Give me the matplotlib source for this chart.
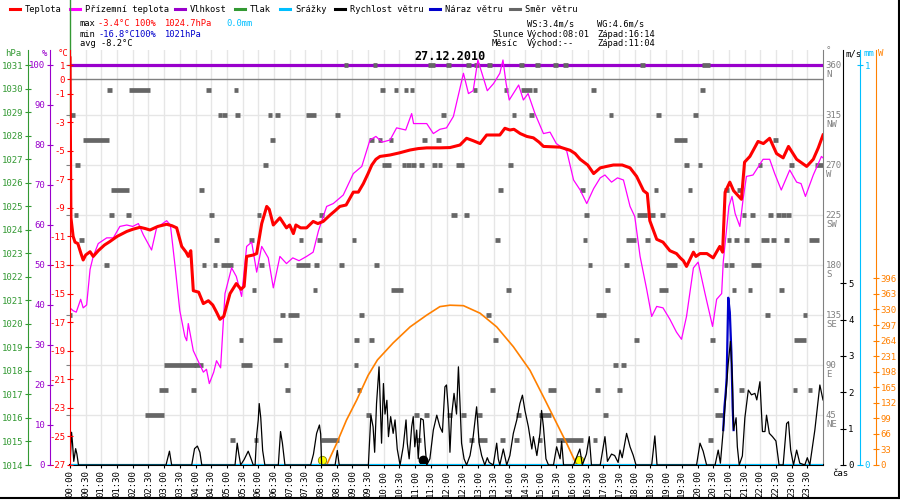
import numpy as np
import matplotlib.pyplot as plt
from matplotlib.lines import Line2D

plt.rcParams['font.family'] = ['DejaVu Sans Mono', 'DejaVu Sans']
plt.rcParams['axes.unicode_minus'] = False

# time in hours of the day
temp_pts = [(0, 1.5), (0.01, -2.8), (0.03, -9.7), (0.1, -11.0), (0.16, -11.4), (0.25, -11.5),
            (0.35, -12.2), (0.42, -12.65), (0.5, -12.3), (0.64, -12.07), (0.74, -12.4), (0.9, -12.0),
            (1.1, -11.6), (1.27, -11.36), (1.5, -11.0), (1.81, -10.65), (2.0, -10.5), (2.23, -10.36),
            (2.4, -10.45), (2.55, -10.55), (2.8, -10.3), (3.08, -10.15), (3.25, -10.25), (3.4, -10.4),
            (3.56, -11.7), (3.7, -12.1), (3.77, -12.4), (3.85, -12.0), (3.93, -14.8), (4.1, -14.9),
            (4.25, -15.7), (4.41, -15.5), (4.55, -15.8), (4.67, -16.3), (4.78, -16.8), (4.9, -16.6),
            (5.1, -15.0), (5.3, -14.3), (5.45, -14.7), (5.55, -14.5), (5.63, -12.4), (5.84, -12.3),
            (5.95, -12.2), (6.11, -10.1), (6.27, -8.9), (6.35, -9.1), (6.48, -10.2), (6.69, -9.7),
            (6.9, -10.4), (7.0, -10.2), (7.12, -10.8), (7.2, -10.2), (7.35, -10.4), (7.54, -10.4),
            (7.75, -9.95), (7.9, -10.1), (8.07, -9.95), (8.29, -9.5), (8.45, -9.2), (8.6, -8.9),
            (8.8, -8.8), (9.03, -7.9), (9.19, -7.9), (9.35, -7.3), (9.5, -6.6), (9.62, -6.0),
            (9.75, -5.6), (9.88, -5.4), (10.2, -5.3), (10.5, -5.15), (10.84, -4.95), (11.1, -4.85),
            (11.37, -4.8), (11.79, -4.8), (12.11, -4.78), (12.43, -4.6), (12.64, -4.13), (12.85, -4.3),
            (13.07, -4.5), (13.28, -3.9), (13.7, -3.9), (13.86, -3.43), (14.02, -3.55), (14.15, -3.5),
            (14.35, -3.8), (14.56, -4.0), (14.77, -4.1), (14.95, -4.4), (15.09, -4.7), (15.62, -4.75),
            (15.94, -4.97), (16.1, -5.2), (16.26, -5.6), (16.5, -6.0), (16.69, -6.6), (16.9, -6.2),
            (17.1, -6.1), (17.32, -6.0), (17.6, -6.0), (17.85, -6.2), (18.06, -6.8), (18.28, -7.8),
            (18.4, -8.0), (18.48, -9.9), (18.7, -11.2), (18.9, -11.4), (19.12, -12.0), (19.33, -12.2),
            (19.45, -12.5), (19.55, -12.7), (19.65, -13.1), (19.87, -12.1), (19.95, -12.4), (20.08, -12.2),
            (20.3, -12.2), (20.5, -12.5), (20.71, -11.7), (20.8, -12.1), (20.88, -7.9), (21.03, -7.2),
            (21.15, -7.8), (21.4, -8.4), (21.5, -5.8), (21.67, -5.4), (21.93, -4.35), (22.1, -4.5),
            (22.3, -4.13), (22.52, -5.2), (22.73, -5.5), (22.9, -4.7), (23.16, -5.6), (23.48, -6.1),
            (23.69, -5.6), (23.85, -4.8), (24.0, -3.9)]

ground_pts = [(0, -16.0), (0.1, -16.2), (0.2, -16.3), (0.34, -15.4), (0.42, -16.0), (0.53, -15.8),
              (0.64, -13.3), (0.74, -12.4), (0.9, -11.5), (1.17, -11.1), (1.38, -11.1), (1.59, -10.3),
              (1.81, -10.2), (2.0, -10.3), (2.18, -10.1), (2.34, -10.9), (2.6, -11.95), (2.76, -10.4),
              (3.08, -9.9), (3.2, -10.2), (3.35, -13.1), (3.5, -16.2), (3.66, -18.0), (3.72, -18.3),
              (3.77, -17.1), (3.93, -19.0), (4.1, -19.8), (4.25, -20.5), (4.35, -20.3), (4.44, -21.3),
              (4.58, -20.5), (4.67, -19.7), (4.8, -20.2), (4.94, -15.0), (5.15, -13.2), (5.3, -13.8),
              (5.47, -15.2), (5.63, -11.7), (5.79, -11.4), (5.95, -13.5), (6.11, -11.7), (6.32, -12.5),
              (6.48, -14.6), (6.69, -12.4), (6.9, -12.9), (7.1, -12.5), (7.3, -12.7), (7.54, -12.4),
              (7.75, -12.1), (7.92, -10.6), (8.18, -8.9), (8.39, -8.7), (8.71, -8.1), (9.03, -6.6),
              (9.3, -6.1), (9.56, -4.25), (9.75, -4.0), (9.95, -4.4), (10.2, -4.25), (10.41, -3.4),
              (10.7, -3.55), (10.89, -2.4), (10.95, -3.1), (11.37, -3.1), (11.58, -3.8), (11.79, -3.5),
              (12.0, -3.4), (12.22, -2.6), (12.54, 0.42), (12.7, -1.0), (12.85, -0.8), (13.0, 1.35),
              (13.3, -0.8), (13.5, -0.3), (13.7, 0.42), (13.8, 1.35), (13.9, -0.3), (14.0, -1.45),
              (14.3, -0.4), (14.45, -1.45), (14.6, -1.0), (14.82, -2.4), (15.09, -3.8), (15.3, -3.7),
              (15.5, -4.5), (15.83, -5.0), (16.05, -7.05), (16.26, -7.75), (16.47, -8.7), (16.69, -7.65),
              (16.9, -6.9), (17.05, -6.7), (17.26, -7.2), (17.45, -6.9), (17.64, -7.05), (17.85, -8.9),
              (18.0, -9.6), (18.17, -12.4), (18.38, -14.7), (18.54, -16.6), (18.7, -15.9), (18.9, -16.0),
              (19.12, -16.8), (19.33, -17.7), (19.49, -18.2), (19.65, -16.6), (19.87, -13.2), (20.02, -12.8),
              (20.24, -15.0), (20.48, -17.3), (20.61, -15.4), (20.77, -15.0), (20.82, -12.8), (21.0, -8.9),
              (21.1, -8.2), (21.2, -9.4), (21.35, -10.3), (21.45, -8.45), (21.56, -6.8), (21.77, -6.7),
              (22.09, -5.6), (22.3, -5.6), (22.46, -6.6), (22.67, -7.75), (22.94, -6.35), (23.16, -7.2),
              (23.3, -7.3), (23.44, -8.2), (23.69, -6.7), (23.95, -5.4), (24.0, -5.5)]

wind_pts = [(0, 0), (0.05, 0.9), (0.08, 0.6), (0.12, 0.1), (0.18, 0.45), (0.22, 0.3), (0.27, 0),
            (3.06, 0), (3.17, 0.38), (3.24, 0), (3.88, 0), (3.97, 0.45), (4.06, 0.52), (4.14, 0.35),
            (4.2, 0), (5.26, 0), (5.33, 0.6), (5.38, 0.3), (5.44, 0), (5.55, 0.15), (5.68, 0.38),
            (5.78, 0.15), (5.84, 0), (5.9, 0), (5.95, 0.82), (6.0, 1.24), (6.03, 1.69), (6.08, 1.3),
            (6.14, 0.4), (6.21, 0), (6.64, 0), (6.71, 0.92), (6.77, 0.6), (6.85, 0), (7.67, 0),
            (7.76, 0.3), (7.86, 0.87), (7.95, 1.1), (7.99, 0.85), (8.02, 0), (8.45, 0), (8.52, 0.4),
            (8.58, 0), (9.51, 0), (9.59, 1.37), (9.66, 1.05), (9.71, 0.35), (9.77, 1.69), (9.85, 2.7),
            (9.9, 1.4), (9.93, 0.6), (9.99, 2.24), (10.04, 1.4), (10.1, 1.78), (10.15, 0.78),
            (10.22, 1.33), (10.3, 0.87), (10.36, 1.24), (10.43, 0.44), (10.52, 0), (10.62, 0.5),
            (10.71, 1.24), (10.75, 0.6), (10.81, 0.17), (10.89, 1.05), (10.94, 1.33), (10.99, 0.5),
            (11.05, 0.96), (11.1, 0.17), (11.18, 1.28), (11.26, 1.24), (11.32, 0.5), (11.37, 0),
            (11.47, 0.17), (11.58, 0.96), (11.69, 1.37), (11.79, 1.05), (11.87, 0.9), (11.95, 2.15),
            (12.0, 2.2), (12.06, 1.5), (12.11, 0.35), (12.16, 1.33), (12.24, 1.97), (12.32, 1.4),
            (12.38, 2.7), (12.43, 1.69), (12.48, 0.6), (12.56, 0.17), (12.64, 0), (12.75, 0.26),
            (12.85, 0.78), (12.96, 1.6), (13.04, 0.6), (13.12, 0.26), (13.22, 0), (13.3, 0.2),
            (13.36, 0.07), (13.49, 0), (13.6, 0.6), (13.65, 0.17), (13.7, 0), (13.81, 0.44),
            (13.92, 0), (14.02, 0.26), (14.13, 0.87), (14.24, 1.24), (14.34, 1.69), (14.42, 1.92),
            (14.5, 1.5), (14.61, 1.05), (14.72, 0.44), (14.77, 0.78), (14.88, 0.26), (14.98, 0.87),
            (15.03, 1.5), (15.09, 1.05), (15.17, 0.17), (15.25, 0), (15.41, 0), (15.51, 0.5),
            (15.62, 0.17), (15.67, 0.65), (15.73, 0), (16.05, 0), (16.25, 0.44), (16.33, 0),
            (16.46, 0.3), (16.55, 0.78), (16.62, 0), (16.9, 0), (17.05, 0.78), (17.13, 0.1),
            (17.26, 0.3), (17.36, 0.26), (17.47, 0.07), (17.53, 0.41), (17.6, 0.2), (17.74, 0.87),
            (17.85, 0.5), (17.95, 0.27), (18.04, 0), (18.54, 0), (18.64, 0.8), (18.71, 0),
            (19.97, 0), (20.08, 0.6), (20.18, 0.38), (20.29, 0), (20.56, 0), (20.66, 0.41),
            (20.73, 0.05), (20.82, 0.96), (20.9, 1.88), (20.98, 2.8), (21.05, 3.4), (21.11, 2.4),
            (21.15, 0.96), (21.23, 1.3), (21.27, 0.5), (21.33, 0), (21.43, 0.25), (21.51, 1.3),
            (21.62, 2.06), (21.72, 1.93), (21.83, 1.97), (21.89, 1.79), (21.99, 2.29), (22.07, 0.92),
            (22.15, 0.92), (22.2, 1.37), (22.29, 0.87), (22.39, 0.78), (22.5, 0.66), (22.6, 0),
            (22.73, 0), (22.84, 1.14), (22.9, 1.19), (22.97, 0.41), (23.06, 0), (23.16, 0.41),
            (23.26, 0.05), (23.42, 0), (23.5, 0.2), (23.58, 0), (23.74, 0.96), (23.9, 2.2), (24.0, 1.79)]

gust_pts = [(20.82, 0.96), (20.86, 1.6), (20.9, 2.0), (20.93, 2.4), (20.98, 4.6), (21.03, 4.2),
            (21.08, 3.1), (21.12, 1.6), (21.15, 0.96)]

sun_pts = [(8.18, 0), (8.5, 46), (8.81, 95), (9.14, 138), (9.5, 190), (9.8, 223), (10.3, 259),
           (10.84, 293), (11.37, 318), (11.79, 336), (12.11, 339), (12.54, 338), (13.07, 322),
           (13.6, 293), (14.13, 251), (14.66, 201), (15.14, 138), (15.62, 74), (15.83, 46), (16.15, 0)]

humidity_t = [0, 24]
humidity_v = [100, 100]
precip_t = [0, 24]
precip_v = [0, 0]
pressure_t = [0, 0]
pressure_v = [1033.8, 1028.8]

# wind direction marks: (from hour, to hour, degrees)
dir_marks = [
    (8.8, 8.8, 360), (9.72, 9.72, 360), (11.47, 11.57, 360), (12.06, 12.06, 360), (12.69, 12.69, 360),
    (12.96, 12.96, 360), (13.38, 13.38, 360), (14.4, 14.4, 360), (14.9, 14.9, 360), (15.48, 15.48, 360),
    (15.8, 15.8, 360), (18.24, 18.24, 360), (20.21, 20.31, 360),
    (1.27, 1.27, 337.5), (1.96, 2.46, 337.5), (4.41, 4.41, 337.5), (5.29, 5.29, 337.5), (9.95, 9.95, 337.5),
    (10.39, 10.39, 337.5), (10.71, 10.71, 337.5), (10.9, 10.9, 337.5), (12.91, 12.91, 337.5),
    (13.9, 13.9, 337.5), (14.45, 14.66, 337.5), (14.82, 14.82, 337.5), (16.68, 16.68, 337.5),
    (20.16, 20.16, 337.5),
    (0.08, 0.08, 315), (4.78, 4.78, 315), (4.92, 4.92, 315), (5.34, 5.34, 315), (6.37, 6.37, 315),
    (6.62, 6.62, 315), (7.6, 7.75, 315), (8.53, 8.53, 315), (11.9, 11.9, 315), (14.15, 14.15, 315),
    (14.71, 14.71, 315), (17.24, 17.24, 315), (18.75, 18.75, 315), (19.94, 19.94, 315),
    (0.48, 1.17, 292.5), (6.46, 6.46, 292.5), (9.62, 9.62, 292.5), (9.88, 9.88, 292.5),
    (10.23, 10.23, 292.5), (11.31, 11.31, 292.5), (11.74, 11.74, 292.5), (19.33, 19.6, 292.5),
    (22.49, 22.49, 292.5),
    (0.24, 0.24, 270), (6.24, 6.24, 270), (10.01, 10.15, 270), (10.65, 10.65, 270), (10.8, 10.8, 270),
    (10.94, 10.94, 270), (11.2, 11.2, 270), (11.61, 11.61, 270), (11.79, 11.79, 270),
    (12.37, 12.48, 270), (14.04, 14.04, 270), (19.65, 19.65, 270), (20.08, 20.08, 270),
    (21.99, 21.99, 270), (23.0, 23.0, 270), (23.82, 23.98, 270),
    (1.38, 1.81, 247.5), (4.2, 4.2, 247.5), (13.72, 13.72, 247.5), (16.33, 16.33, 247.5),
    (18.68, 18.68, 247.5), (19.76, 19.76, 247.5), (20.93, 20.93, 247.5), (21.33, 21.33, 247.5),
    (0.19, 0.19, 225), (1.33, 1.33, 225), (1.86, 1.86, 225), (4.52, 4.52, 225), (6.02, 6.02, 225),
    (8.02, 8.02, 225), (12.22, 12.27, 225), (12.64, 12.64, 225), (16.47, 16.47, 225),
    (18.14, 18.3, 225), (18.45, 18.57, 225), (18.89, 18.89, 225), (21.48, 21.48, 225),
    (21.76, 21.76, 225), (22.33, 22.33, 225), (22.58, 22.58, 225), (22.73, 22.73, 225),
    (22.89, 22.89, 225),
    (0.37, 0.37, 202.5), (4.68, 4.68, 202.5), (5.79, 5.79, 202.5), (7.36, 7.36, 202.5),
    (7.95, 7.95, 202.5), (9.05, 9.05, 202.5), (13.63, 13.63, 202.5), (16.41, 16.41, 202.5),
    (17.8, 17.98, 202.5), (18.41, 18.41, 202.5), (19.82, 19.82, 202.5), (21.0, 21.0, 202.5),
    (21.25, 21.25, 202.5), (21.57, 21.57, 202.5), (22.09, 22.2, 202.5), (22.43, 22.43, 202.5),
    (22.84, 22.84, 202.5), (23.64, 23.8, 202.5),
    (1.17, 1.17, 180), (4.27, 4.27, 180), (4.62, 4.62, 180), (4.89, 5.12, 180), (6.11, 6.11, 180),
    (7.29, 7.57, 180), (7.86, 7.86, 180), (8.66, 8.66, 180), (9.77, 9.77, 180), (16.57, 16.57, 180),
    (17.74, 17.74, 180), (19.07, 19.28, 180), (20.91, 20.91, 180), (21.09, 21.09, 180),
    (21.78, 21.94, 180),
    (5.86, 5.86, 157.5), (7.81, 7.81, 157.5), (10.3, 10.54, 157.5), (13.97, 13.97, 157.5),
    (17.14, 17.14, 157.5), (18.84, 19.0, 157.5), (21.16, 21.16, 157.5), (21.67, 21.67, 157.5),
    (22.68, 22.68, 157.5),
    (0.0, 0.0, 135), (6.78, 6.78, 135), (7.01, 7.22, 135), (9.3, 9.3, 135), (13.33, 13.33, 135),
    (16.84, 17.0, 135), (22.23, 22.23, 135), (23.43, 23.43, 135),
    (5.45, 5.45, 112.5), (6.53, 6.69, 112.5), (9.14, 9.14, 112.5), (9.6, 9.6, 112.5),
    (13.57, 13.57, 112.5), (18.06, 18.06, 112.5), (20.48, 20.48, 112.5), (23.14, 23.38, 112.5),
    (3.08, 3.93, 90), (4.04, 4.15, 90), (5.53, 5.74, 90), (6.88, 6.88, 90), (9.12, 9.12, 90),
    (17.39, 17.39, 90), (17.64, 17.64, 90),
    (2.92, 3.06, 67.5), (3.93, 3.93, 67.5), (6.94, 6.94, 67.5), (9.21, 9.21, 67.5), (13.47, 13.47, 67.5),
    (15.3, 15.42, 67.5), (16.82, 16.82, 67.5), (17.51, 17.51, 67.5), (20.59, 20.59, 67.5),
    (21.41, 21.41, 67.5), (23.11, 23.11, 67.5), (23.59, 23.59, 67.5),
    (2.47, 2.92, 45), (9.51, 9.51, 45), (11.05, 11.05, 45), (11.37, 11.37, 45), (12.1, 12.1, 45),
    (12.54, 12.54, 45), (13.05, 13.05, 45), (14.29, 14.29, 45), (15.03, 15.24, 45), (17.07, 17.07, 45),
    (20.63, 20.77, 45),
    (5.18, 5.18, 22.5), (5.93, 5.93, 22.5), (8.07, 8.5, 22.5), (11.1, 11.1, 22.5), (12.8, 12.8, 22.5),
    (13.07, 13.23, 22.5), (13.79, 13.79, 22.5), (14.24, 14.24, 22.5), (14.98, 14.98, 22.5),
    (15.57, 16.26, 22.5), (16.73, 16.73, 22.5), (20.42, 20.42, 22.5),
]

sunrise, sunset, moonset = 8.02, 16.23, 11.25

temp_ticks = [1, 0, -1, -3, -5, -7, -9, -11, -13, -15, -17, -19, -21, -23, -25, -27]
hpa_ticks = list(range(1014, 1032))
hum_ticks = list(range(0, 101, 10))
dir_ticks = [45, 90, 135, 180, 225, 270, 315, 360]
dir_names = ['NE', 'E', 'SE', 'S', 'SW', 'W', 'NW', 'N']
ms_ticks = [0, 1, 2, 3, 4, 5]
mm_ticks = [0, 1]
w_ticks = list(range(0, 397, 33))
time_ticks = np.arange(0, 24, 0.5)
time_labels = [f"{int(h):02d}:{int(round((h % 1) * 60)):02d}" for h in time_ticks]

RED = '#ff0000'
MAG = '#ff00ff'
PUR = '#9900cc'
GRN = '#339933'
CYA = '#00bfff'
BLU = '#0000cc'
GRY = '#808080'
ORA = '#ff8000'

W, H = 900, 500
fig = plt.figure(figsize=(9, 5), dpi=100)
fig.patch.set_facecolor('white')
ax_d = fig.add_axes([70 / W, 35 / H, 753 / W, 415 / H])


def unzip(pts):
    return [p[0] for p in pts], [p[1] for p in pts]


def bare(ax):
    for s in ax.spines.values():
        s.set_visible(False)


# base axes: grid + wind direction scale
ax_d.set_xlim(0, 24)
ax_d.set_ylim(0, 373.5)
bare(ax_d)
ax_d.spines['right'].set_visible(True)
ax_d.spines['right'].set_color(GRY)
ax_d.spines['bottom'].set_visible(True)
ax_d.spines['bottom'].set_color('black')
ax_d.spines['bottom'].set_linewidth(1.5)
ax_d.yaxis.tick_right()
ax_d.set_yticks(dir_ticks)
ax_d.set_yticklabels([])
ax_d.tick_params(axis='y', colors=GRY, direction='out', length=3)
ax_d.set_xticks(time_ticks)
ax_d.set_xticklabels(time_labels, rotation=90, fontsize=6.5, va='top')
ax_d.tick_params(axis='x', length=2, pad=2)
ax_d.grid(True, color='#e6e6e6', lw=1)
ax_d.set_axisbelow(True)
for d, nm in zip(dir_ticks, dir_names):
    ax_d.annotate(str(d), xy=(1, d), xycoords=ax_d.get_yaxis_transform(), xytext=(2, 0),
                  textcoords='offset points', va='center', ha='left', color=GRY, fontsize=6.5)
    ax_d.annotate(nm, xy=(1, d), xycoords=ax_d.get_yaxis_transform(), xytext=(2.5, -6.5),
                  textcoords='offset points', va='center', ha='left', color=GRY, fontsize=6.5)


def twin(z):
    a = ax_d.twinx()
    a.set_zorder(z)
    a.patch.set_visible(False)
    bare(a)
    return a


def left_axis(a, pos, color, ticks, labels):
    a.spines['left'].set_visible(True)
    a.spines['left'].set_position(('axes', pos))
    a.spines['left'].set_color(color)
    a.yaxis.tick_left()
    a.set_yticks(ticks)
    a.set_yticklabels(labels)
    a.tick_params(axis='y', colors=color, direction='inout', length=5, labelsize=6.5, pad=1)


def right_axis(a, pos, color, ticks, labels):
    a.spines['right'].set_visible(True)
    a.spines['right'].set_position(('axes', pos))
    a.spines['right'].set_color(color)
    a.yaxis.tick_right()
    a.set_yticks(ticks)
    a.set_yticklabels(labels)
    a.tick_params(axis='y', colors=color, direction='inout', length=5, labelsize=6.5, pad=1)


ax_h = twin(2)
ax_h.set_ylim(0, 103.75)
left_axis(ax_h, -0.02656, PUR, hum_ticks, [str(v) for v in hum_ticks])
ax_h.plot(humidity_t, humidity_v, color=PUR, lw=2.3)

ax_m = twin(3)
ax_m.set_ylim(0, 373.5)
ax_m.set_yticks([])
half = 0.075
for t0, t1, d in dir_marks:
    ax_m.plot([t0 - half, t1 + half], [d, d], color='#666666', lw=3.4, solid_capstyle='butt')

ax_w = twin(4)
ax_w.set_ylim(0, 880.4)
right_axis(ax_w, 1.0700, ORA, w_ticks, [str(v) for v in w_ticks])
st, sv = unzip(sun_pts)
ax_w.plot(st, sv, color=ORA, lw=1.2)

ax_mm = twin(5)
ax_mm.set_ylim(0, 1.0375)
right_axis(ax_mm, 1.0491, CYA, mm_ticks, ['0', '1'])
ax_mm.plot(precip_t, precip_v, color=CYA, lw=2.2)

ax_s = twin(6)
ax_s.set_ylim(0, 11.4125)
right_axis(ax_s, 1.0270, 'black', ms_ticks, [str(v) for v in ms_ticks])
gt, gv = unzip(gust_pts)
ax_s.plot(gt, gv, color=BLU, lw=1.6)
wt, wv = unzip(wind_pts)
ax_s.plot(wt, wv, color='black', lw=0.9)

ax_p = twin(7)
ax_p.set_ylim(1014, 1031.6375)
left_axis(ax_p, -0.0554, GRN, hpa_ticks, [str(v) for v in hpa_ticks])
ax_p.plot(pressure_t, pressure_v, color=GRN, lw=1, clip_on=False)

ax_t = twin(8)
ax_t.set_ylim(-27, 2.05)
left_axis(ax_t, 0.0, RED, temp_ticks, [str(v) for v in temp_ticks])
ax_t.axhline(0, color=GRY, lw=1)
gtt, gtv = unzip(ground_pts)
ax_t.plot(gtt, gtv, color=MAG, lw=0.9)
tt, tv = unzip(temp_pts)
ax_t.plot(tt, tv, color=RED, lw=2.2)

# sun / moon events on the radiation scale
ax_w.plot([sunrise, sunset], [10, 10], 'o', ms=6, mfc='#ffff00', mec='#808000', mew=0.6, ls='none',
          clip_on=False, zorder=5)
ax_w.plot([moonset], [10], 'o', ms=6, mfc='black', mec='black', ls='none', zorder=5)


def fx(px):
    return px / W


def fy(py):
    return 1 - py / H


# axis headers
fig.text(fx(5), fy(53), 'hPa', color=GRN, fontsize=6.5, va='center')
fig.text(fx(42), fy(53), '%', color=PUR, fontsize=6.5, va='center')
fig.text(fx(58), fy(53), '°C', color=RED, fontsize=6.5, va='center')
fig.text(fx(826), fy(51), '°', color=GRY, fontsize=6.5, va='center')
fig.text(fx(845), fy(54), 'm/s', color='black', fontsize=6.5, va='center')
fig.text(fx(863), fy(54), 'mm', color=CYA, fontsize=6.5, va='center')
fig.text(fx(878), fy(54), 'W', color=ORA, fontsize=6.5, va='center')
fig.text(fx(832), fy(473), 'čas', color='black', fontsize=6.5, va='center')

fig.text(fx(450), fy(57), '27.12.2010', fontsize=8.5, fontweight='bold', ha='center', va='center')

# legend row
legend_items = [('Teplota', RED, 25), ('Přízemní teplota', MAG, 85), ('Vlhkost', PUR, 190),
                ('Tlak', GRN, 250), ('Srážky', CYA, 295), ('Rychlost větru', 'black', 350),
                ('Náraz větru', BLU, 445), ('Směr větru', '#666666', 525)]
for txt, col, x in legend_items:
    fig.add_artist(Line2D([fx(x - 15), fx(x - 5)], [fy(9), fy(9)], color=col, lw=2.2))
    fig.text(fx(x), fy(9), txt, fontsize=6.3, va='center')

# stats block
stats = [('max', 'black', 80, 24), ('-3.4°C 100%', RED, 98, 24), ('1024.7hPa', RED, 165, 24),
         ('0.0mm', CYA, 226, 24), ('min', 'black', 80, 34), ('-16.8°C100%', BLU, 98, 34),
         ('1021hPa', BLU, 165, 34), ('avg -8.2°C', 'black', 80, 44),
         ('WS:3.4m/s', 'black', 527, 24), ('WG:4.6m/s', 'black', 597, 24),
         ('Slunce', 'black', 492, 34), ('Východ:08:01', 'black', 527, 34), ('Západ:16:14', 'black', 597, 34),
         ('Měsíc', 'black', 492, 44), ('Východ:--', 'black', 527, 44), ('Západ:11:04', 'black', 597, 44)]
for txt, col, x, y in stats:
    fig.text(fx(x), fy(y), txt, color=col, fontsize=6.3, va='center')

# frame
fig.add_artist(Line2D([0, 1], [fy(498), fy(498)], color='black', lw=1.5))
fig.add_artist(Line2D([fx(899), fx(899)], [fy(498), 1], color='black', lw=1.5))

fig.savefig('out.png', dpi=100, facecolor='white')
